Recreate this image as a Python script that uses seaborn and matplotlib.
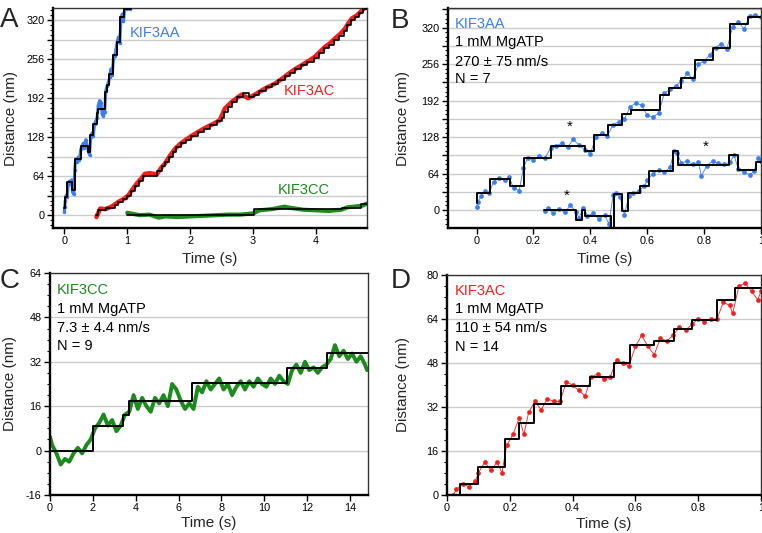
import matplotlib
matplotlib.use("Agg")
import matplotlib.pyplot as plt
import seaborn as sns
from matplotlib.ticker import MultipleLocator, FuncFormatter

# ---------------- data ----------------
# KIF3AA trace (panel A and upper trace of panel B)
aa1_t = [0.00, 0.005, 0.015, 0.03, 0.045, 0.06, 0.08, 0.10, 0.115, 0.13, 0.15, 0.165, 0.18, 0.20, 0.22,
         0.24, 0.26, 0.28, 0.30, 0.32, 0.34, 0.36, 0.38, 0.40, 0.42, 0.44, 0.46, 0.48, 0.50, 0.52,
         0.54, 0.56, 0.58, 0.60, 0.62, 0.64, 0.66, 0.68, 0.70, 0.72, 0.74, 0.76, 0.78, 0.80, 0.82,
         0.84, 0.86, 0.88, 0.90, 0.92, 0.94, 0.96, 0.98, 1.00, 1.02, 1.05]
aa1_y = [5, 14, 24, 33, 30, 50, 56, 52, 58, 38, 34, 74, 92, 88, 95,
         91, 108, 112, 118, 110, 124, 114, 106, 99, 128, 135, 130, 150, 155, 160,
         181, 188, 184, 166, 163, 170, 205, 212, 218, 226, 240, 230, 256, 262, 272,
         285, 292, 283, 322, 330, 318, 340, 342, 339, 341, 338]
aa1_fit_t = [0.0, 0.003, 0.047, 0.119, 0.167, 0.263, 0.382, 0.413, 0.462, 0.511, 0.542, 0.644,
             0.675, 0.717, 0.768, 0.830, 0.892, 0.953, 1.06]
aa1_fit_y = [12, 30, 54, 42, 92, 113, 104, 132, 149, 168, 175, 202, 214, 231, 263, 284, 326, 338, 338]

# second KIF3AA trace (panel B, lower)
aa2_t = [0.24, 0.25, 0.27, 0.29, 0.31, 0.33, 0.35, 0.36, 0.375, 0.39, 0.41, 0.43, 0.45, 0.465, 0.48,
         0.49, 0.505, 0.52, 0.535, 0.55, 0.57, 0.59, 0.60, 0.62, 0.64, 0.66, 0.68, 0.695, 0.705, 0.72,
         0.74, 0.76, 0.78, 0.79, 0.81, 0.83, 0.85, 0.87, 0.89, 0.905, 0.92, 0.94, 0.96, 0.975, 0.99, 1.0]
aa2_y = [-2, 4, -6, 2, -4, 8, -3, -14, 4, -10, -6, -16, -9, -24, 26,
         30, 22, -8, 24, 30, 33, 42, 52, 64, 70, 66, 75, 104, 100, 82,
         86, 80, 84, 60, 78, 86, 82, 80, 84, 96, 72, 66, 62, 68, 92, 86]
aa2_fit_t = [0.237, 0.351, 0.372, 0.382, 0.474, 0.482, 0.511, 0.532, 0.573, 0.606, 0.692, 0.708,
             0.889, 0.918, 0.982, 1.0]
aa2_fit_y = [0, -17, 0, -10, -45, 28, -2, 29, 42, 69, 104, 79, 97, 70, 85, 85]

# KIF3AC trace in panel A
aca_t = [0.51, 0.57, 0.65, 0.75, 0.86, 0.95, 1.02, 1.08, 1.15, 1.22, 1.28, 1.36, 1.47, 1.54, 1.60,
         1.68, 1.76, 1.84, 1.92, 2.02, 2.13, 2.25, 2.37, 2.47, 2.55, 2.66, 2.75, 2.82, 2.92, 3.03,
         3.19, 3.35, 3.46, 3.56, 3.67, 3.77, 3.88, 3.98, 4.06, 4.14, 4.22, 4.30, 4.38, 4.46, 4.52,
         4.57, 4.65, 4.73, 4.80]
aca_y = [-3, 11, 10, 14, 22, 27, 33, 42, 52, 60, 68, 69, 67, 78, 85,
         98, 109, 117, 123, 130, 137, 144, 150, 156, 175, 186, 193, 198, 192, 198,
         208, 216, 224, 232, 240, 246, 253, 260, 268, 276, 282, 290, 297, 306, 316,
         323, 328, 336, 342]
aca_fit_t = [0.51, 0.54, 0.66, 0.80, 0.86, 0.93, 1.00, 1.06, 1.12, 1.18, 1.25, 1.48, 1.55, 1.60,
             1.66, 1.72, 1.78, 1.86, 1.94, 2.02, 2.12, 2.22, 2.32, 2.42, 2.50, 2.54, 2.60, 2.66,
             2.74, 2.84, 2.94, 3.02, 3.10, 3.20, 3.30, 3.40, 3.50, 3.58, 3.66, 3.76, 3.86, 3.96,
             4.04, 4.12, 4.20, 4.28, 4.36, 4.44, 4.50, 4.56, 4.62, 4.68, 4.74, 4.85]
aca_fit_y = [0, 8, 12, 16, 22, 26, 32, 40, 48, 56, 64, 72, 80, 88,
             96, 104, 112, 118, 124, 130, 136, 142, 148, 154, 160, 170, 178, 186,
             194, 200, 194, 198, 204, 210, 216, 222, 228, 234, 240, 246, 252, 258,
             266, 274, 280, 288, 294, 302, 312, 320, 326, 332, 338, 338]

# KIF3CC trace in panel A
cca_t = [1.0, 1.1, 1.2, 1.35, 1.5, 1.6, 1.8, 2.0, 2.2, 2.4, 2.6, 2.8, 3.0, 3.1, 3.3, 3.5, 3.6,
         3.8, 4.0, 4.2, 4.4, 4.5, 4.6, 4.75, 4.8]
cca_y = [4, 2, 0, 1, -4, -2, -3, -2, -1, 0, 1, 1, 3, 8, 10, 14, 12, 9, 8, 7, 9, 13, 14, 16, 19]
cca_fit_t = [1.0, 3.02, 4.41, 4.72, 4.85]
cca_fit_y = [0, 9.5, 12.6, 18, 18]

# KIF3CC trace, panel C
cc_t = [0.0, 0.1, 0.3, 0.5, 0.7, 0.9, 1.1, 1.3, 1.5, 1.7, 1.9, 2.1, 2.3, 2.5, 2.7, 2.9, 3.1, 3.3,
        3.5, 3.7, 3.9, 4.1, 4.3, 4.5, 4.7, 4.9, 5.1, 5.3, 5.5, 5.7, 5.9, 6.1, 6.3, 6.5, 6.7, 6.9,
        7.1, 7.3, 7.5, 7.7, 7.9, 8.1, 8.3, 8.5, 8.7, 8.9, 9.1, 9.3, 9.5, 9.7, 9.9, 10.1, 10.3,
        10.5, 10.7, 10.9, 11.1, 11.3, 11.5, 11.7, 11.9, 12.1, 12.3, 12.5, 12.7, 12.9, 13.1,
        13.3, 13.5, 13.7, 13.9, 14.1, 14.3, 14.5, 14.7, 14.8]
cc_y = [5, 2, -1, -5, -3, -4, -1, 1, -1, 2, 4, 8, 10, 13, 9, 11, 7, 9,
        13, 14, 20, 15, 19, 16, 14, 19, 17, 20, 16, 24, 22, 18, 15, 17, 15, 23,
        21, 25, 22, 24, 26, 22, 24, 20, 23, 25, 22, 25, 23, 26, 24, 23, 26,
        24, 27, 25, 24, 29, 31, 28, 32, 29, 30, 28, 30, 31, 33,
        38, 34, 36, 33, 35, 32, 34, 31, 29]
cc_fit_t = [0.0, 1.99, 3.39, 3.69, 6.64, 11.07, 12.94, 14.9]
cc_fit_y = [0, 9.0, 12.7, 18.0, 24.4, 29.9, 35.3, 35.3]

# KIF3AC trace, panel D
ac_t = [0.02, 0.03, 0.05, 0.07, 0.09, 0.10, 0.12, 0.14, 0.16, 0.175, 0.19, 0.21, 0.23, 0.245, 0.26,
        0.28, 0.30, 0.32, 0.34, 0.36, 0.38, 0.40, 0.42, 0.44, 0.46, 0.48, 0.50, 0.52, 0.54, 0.56,
        0.58, 0.60, 0.62, 0.64, 0.66, 0.68, 0.70, 0.72, 0.74, 0.76, 0.78, 0.80, 0.82, 0.84, 0.86,
        0.88, 0.90, 0.91, 0.93, 0.95, 0.97, 0.99, 1.00]
ac_y = [0, 2, 4, 3, 5, 8, 12, 9, 12, 8, 18, 22, 28, 22, 30,
        34, 31, 35, 34, 34, 41, 40, 38, 36, 43, 44, 42, 43, 49, 48,
        47, 54, 58, 54, 51, 57, 56, 58, 61, 60, 62, 64, 63, 64, 64,
        70, 69, 66, 76, 77, 74, 71, 74]
ac_fit_t = [0.042, 0.042, 0.099, 0.186, 0.229, 0.276, 0.364, 0.454, 0.533, 0.584, 0.659, 0.722,
            0.779, 0.859, 0.917, 1.0]
ac_fit_y = [0, 4.0, 10.1, 20.2, 26.3, 33.1, 39.5, 42.9, 48.0, 54.5, 55.9, 60.2, 63.6, 70.9, 75.4, 75.4]

# annotation texts
b_lines = ["KIF3AA", "1 mM MgATP", "270 ± 75 nm/s", "N = 7"]
c_lines = ["KIF3CC", "1 mM MgATP", "7.3 ± 4.4 nm/s", "N = 9"]
d_lines = ["KIF3AC", "1 mM MgATP", "110 ± 54 nm/s", "N = 14"]
star_t = [0.327, 0.316, 0.807]
star_y = [133, 13, 98]

# ---------------- styling ----------------
sns.set_theme(style="white")
plt.rcParams['font.family'] = ['Liberation Sans', 'DejaVu Sans']

BLUE = "#3a7ef2"
RED = "#f41f1c"
GREEN = "#1c8a1c"
GRID = "#cccccc"

fig = plt.figure(figsize=(7.62, 5.33), dpi=100)
axA = fig.add_axes([0.0696, 0.5722, 0.412, 0.4128])
axB = fig.add_axes([0.588, 0.5722, 0.4108, 0.4128])
axC = fig.add_axes([0.0656, 0.0713, 0.4173, 0.4165])
axD = fig.add_axes([0.5866, 0.0713, 0.412, 0.4128])


def trace(ax, t, y, color, lw, ms=0):
    kw = dict(x=t, y=y, ax=ax, color=color, lw=lw, estimator=None, sort=False, zorder=2)
    if ms:
        kw.update(marker='o', markersize=ms, markeredgewidth=0)
    sns.lineplot(**kw)


def steps(ax, t, y, lw=1.4):
    sns.lineplot(x=t, y=y, ax=ax, color='black', lw=lw, drawstyle='steps-post',
                 estimator=None, sort=False, zorder=3)


def style(ax, xlim, ylim, xmaj, ymaj, ymin, ylab_every, xlab_x, ylab_y):
    ax.set_xlim(*xlim)
    ax.set_ylim(*ylim)
    ax.xaxis.set_major_locator(MultipleLocator(xmaj))
    ax.yaxis.set_major_locator(MultipleLocator(ymaj))
    ax.yaxis.set_minor_locator(MultipleLocator(ymin))
    ax.xaxis.set_major_formatter(FuncFormatter(lambda v, p: f"{v:g}"))
    ax.yaxis.set_major_formatter(FuncFormatter(
        lambda v, p: f"{v:g}" if abs(v / ylab_every - round(v / ylab_every)) < 1e-6 else ""))
    ax.grid(True, which='major', axis='y', color=GRID, lw=1.0)
    ax.grid(False, axis='x')
    ax.set_axisbelow(True)
    ax.tick_params(axis='both', which='major', direction='out', length=4, width=1,
                   labelsize=7.8, pad=2, color='black', labelcolor='black',
                   left=True, bottom=True, top=False, right=False)
    ax.tick_params(axis='y', which='minor', direction='out', length=2.5, width=0.8,
                   color='black', left=True, right=False)
    for side in ['left', 'bottom']:
        ax.spines[side].set_linewidth(1.7)
        ax.spines[side].set_color('black')
    for side in ['top', 'right']:
        ax.spines[side].set_linewidth(1.0)
        ax.spines[side].set_color('#333333')
    ax.set_xlabel("Time (s)", fontsize=11)
    ax.set_ylabel("Distance (nm)", fontsize=11)
    ax.yaxis.set_label_coords(ylab_y, 0.5)
    ax.xaxis.set_label_coords(0.5, xlab_x)


def block(ax, lines, color, x, ys):
    for i, (s, yy) in enumerate(zip(lines, ys)):
        ax.text(x, yy, s, transform=ax.transAxes, ha='left', va='baseline', fontsize=10.5,
                color=color if i == 0 else 'black')


# ---- Panel A ----
trace(axA, aa1_t, aa1_y, BLUE, 2.2, 2.5)
steps(axA, aa1_fit_t, aa1_fit_y)
trace(axA, aca_t, aca_y, RED, 3.2)
steps(axA, aca_fit_t, aca_fit_y, 1.2)
trace(axA, cca_t, cca_y, GREEN, 3.0)
steps(axA, cca_fit_t, cca_fit_y, 1.2)
style(axA, (-0.18, 4.81), (-21, 340), 1, 32, 8, 64, -0.109, -0.113)
axA.text(1.044, 292.6, "KIF3AA", color=BLUE, fontsize=10.5, va='baseline')
axA.text(3.49, 197, "KIF3AC", color=RED, fontsize=10.5, va='baseline')
axA.text(3.39, 35.6, "KIF3CC", color=GREEN, fontsize=10.5, va='baseline')

# ---- Panel B ----
trace(axB, aa1_t, aa1_y, BLUE, 0.6, 3.4)
steps(axB, aa1_fit_t, aa1_fit_y)
trace(axB, aa2_t, aa2_y, BLUE, 0.6, 3.4)
steps(axB, aa2_fit_t, aa2_fit_y)
style(axB, (-0.1, 1.0), (-31.6, 354.6), 0.2, 32, 8, 64, -0.109, -0.121)
for st, sy in zip(star_t, star_y):
    axB.text(st, sy, "*", ha='center', va='bottom', fontsize=11, color='black')
block(axB, b_lines, BLUE, 0.022, [0.908, 0.827, 0.738, 0.658])

# ---- Panel C ----
trace(axC, cc_t, cc_y, GREEN, 2.8)
steps(axC, cc_fit_t, cc_fit_y)
style(axC, (0, 14.84), (-16, 64), 2, 16, 4, 16, -0.093, -0.104)
block(axC, c_lines, GREEN, 0.021, [0.904, 0.818, 0.735, 0.652])

# ---- Panel D ----
trace(axD, ac_t, ac_y, RED, 0.6, 3.4)
steps(axD, ac_fit_t, ac_fit_y)
style(axD, (0, 1.0), (0, 80), 0.2, 16, 4, 16, -0.099, -0.118)
block(axD, d_lines, RED, 0.025, [0.909, 0.826, 0.742, 0.654])

# panel letters
fig.text(0.0, 1 - 27 / 533, "A", fontsize=20, va='baseline', ha='left')
fig.text(391 / 762, 1 - 28 / 533, "B", fontsize=20, va='baseline', ha='left')
fig.text(0.0, 1 - 288 / 533, "C", fontsize=20, va='baseline', ha='left')
fig.text(391 / 762, 1 - 288 / 533, "D", fontsize=20, va='baseline', ha='left')

fig.savefig("out.png", dpi=100)
